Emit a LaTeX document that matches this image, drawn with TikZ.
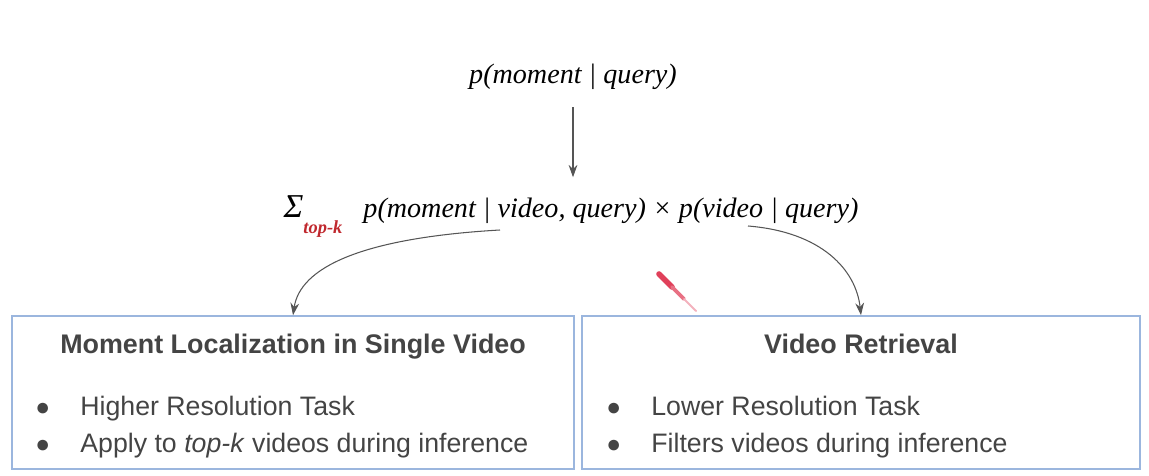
\documentclass[tikz,border=0pt]{standalone}
\usepackage{fontspec}
\setmainfont{Liberation Sans}
\newfontfamily\formfont{Liberation Serif}
\usetikzlibrary{arrows.meta,positioning}
\definecolor{ink}{HTML}{444444}
\definecolor{frame}{HTML}{9BB6DE}
\definecolor{wire}{HTML}{555555}
\definecolor{topk}{HTML}{C0282E}
\definecolor{laser}{HTML}{E0405A}
\tikzset{>={Stealth[length=7pt,width=5pt]},
  formula/.style={font=\formfont\itshape\fontsize{16}{19}\selectfont,text=black,inner sep=1pt,anchor=base},
  taskbox/.style={draw=frame,line width=.9pt,minimum width=11.24cm,minimum height=3.06cm,inner sep=0pt},
  tasktitle/.style={font=\bfseries\fontsize{15.3}{18}\selectfont,text=ink,anchor=base},
  item/.style={font=\fontsize{15.2}{18}\selectfont,text=ink,anchor=base west,inner sep=0pt},
  link/.style={->,draw=wire,line width=.6pt}}
\newcommand{\dotitem}[1]{\makebox[.9cm][l]{\fontsize{14}{14}\selectfont●}#1}

\begin{document}
\begin{tikzpicture}[x=.02cm,y=-.02cm]
\path[use as bounding box] (0,0) rectangle (1149,476);
% formulas
\node[formula] (marg) at (573,84) {p(moment | query)};
\node[formula] (fact) at (571,217) {{\fontsize{19}{19}\selectfont Σ}\raisebox{-1.25ex}{\fontsize{10.5}{12}\selectfont\bfseries\color{topk}top-k}\hspace{.75em}p(moment | video, query) × p(video | query)};
\draw[link,shorten <=8.5pt,shorten >=9pt] (marg.south) -- (marg.south |- fact.north);
% the two tasks
\node[taskbox] (local) at (293,392.5) {};
\node[taskbox,minimum width=11.16cm] (retr) at (861,392.5) {};
\node[tasktitle] (ltitle) at (293,353) {Moment Localization in Single Video};
\node[tasktitle] (rtitle) at (861,353) {Video Retrieval};
\node[item] (l1) at (35,415) {\dotitem{Higher Resolution Task}};
\node[item] (l2) at (35,452) {\dotitem{Apply to \textit{top-k} videos during inference}};
\node[item] (r1) at (606,415) {\dotitem{Lower Resolution Task}};
\node[item] (r2) at (606,452) {\dotitem{Filters videos during inference}};
\coordinate (lsplit) at (500,230);
\coordinate (rsplit) at (748,226);
\draw[link] (lsplit) .. controls (360,238) and (300,268) .. (local.north);
\draw[link] (rsplit) .. controls (822,232) and (856,270) .. (retr.north);
% pointer trace
\draw[laser,line width=3.2pt,line cap=round] (659,274)--(672,287);
\draw[laser!75,line width=2.2pt,line cap=round] (672,287)--(684,299);
\draw[laser!40,line width=1.2pt,line cap=round] (684,299)--(696,311);
\end{tikzpicture}
\end{document}
